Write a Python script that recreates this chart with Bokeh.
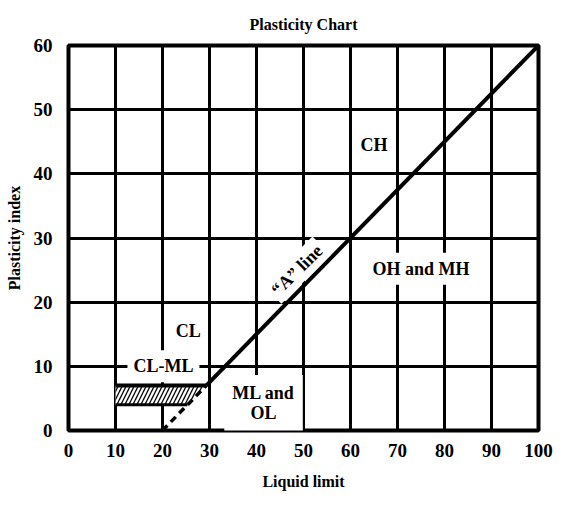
from bokeh.plotting import figure
from bokeh.models import ColumnDataSource
from bokeh.core.properties import value
from bokeh.embed import file_html
from bokeh.resources import INLINE

# ---- data ----
x_ticks = [0, 10, 20, 30, 40, 50, 60, 70, 80, 90, 100]
y_ticks = [0, 10, 20, 30, 40, 50, 60]

# "A" line (solid part) and its dashed extension
a_line_ll = [29.3, 100]
a_line_pi = [7, 60]
a_dash_ll = [20, 29.3]
a_dash_pi = [0, 7]

# CL-ML hatched band
hatch_ll = [10, 29.3, 25.3, 10]
hatch_pi = [7, 7, 4, 4]
band_top_ll = [10, 29.3]
band_top_pi = [7, 7]
band_bot_ll = [10, 25.3]
band_bot_pi = [4, 4]

# zone labels
zone_text = ["CH", "OH and MH", "CL", "CL-ML"]
zone_ll = [65, 75, 25.5, 20.2]
zone_pi = [44.5, 25.2, 15.5, 10]

ml_text = ["ML and\nOL"]
ml_ll = [41.5]
ml_pi = [4.3]

aline_label = ["\u201cA\u201d line"]
aline_label_ll = [48.6]
aline_label_pi = [25.0]

FONT = "Liberation Serif"

p = figure(width=558, height=492, x_range=(0, 100), y_range=(0, 60),
           min_border_left=68, min_border_right=20, min_border_top=42, min_border_bottom=58,
           output_backend="svg", toolbar_location=None, tools="")

p.title.text = "Plasticity Chart"
p.title.align = "center"
p.title.text_font = FONT
p.title.text_font_size = "16px"
p.title.text_font_style = "bold"
p.title.text_color = "black"
p.title.standoff = 26

for ax in (p.xaxis[0], p.yaxis[0]):
    ax.axis_line_color = None
    ax.major_tick_line_color = None
    ax.minor_tick_line_color = None
    ax.major_label_text_font = FONT
    ax.major_label_text_font_size = "19px"
    ax.major_label_text_font_style = "bold"
    ax.major_label_text_color = "black"
    ax.axis_label_text_font = FONT
    ax.axis_label_text_font_size = "16px"
    ax.axis_label_text_font_style = "bold"
    ax.axis_label_text_color = "black"

p.xaxis.ticker = x_ticks
p.yaxis.ticker = y_ticks
p.xaxis.major_label_standoff = 7
p.yaxis.major_label_standoff = 10
p.xaxis.axis_label = "Liquid limit"
p.yaxis.axis_label = "Plasticity index"
p.xaxis.axis_label_standoff = 13
p.yaxis.axis_label_standoff = 8

p.xgrid.ticker = x_ticks
p.ygrid.ticker = y_ticks
for g in (p.xgrid[0], p.ygrid[0]):
    g.grid_line_color = "black"
    g.grid_line_width = 3
    g.grid_line_alpha = 1.0

p.outline_line_color = "black"
p.outline_line_width = 4
p.outline_line_alpha = 1.0

# hatched CL-ML band
p.patch(hatch_ll, hatch_pi, fill_color="white", line_color=None,
        hatch_pattern="/", hatch_color="black", hatch_scale=8, hatch_weight=1.3)
p.line(band_top_ll, band_top_pi, line_color="black", line_width=4)
p.line(band_bot_ll, band_bot_pi, line_color="black", line_width=3)

# A line
p.line(a_line_ll, a_line_pi, line_color="black", line_width=4)
p.line(a_dash_ll, a_dash_pi, line_color="black", line_width=3.5, line_dash="7 5")

src = ColumnDataSource(dict(x=zone_ll, y=zone_pi, t=zone_text))
p.text(x="x", y="y", text="t", source=src, text_align="center", text_baseline="middle",
       text_font=value(FONT), text_font_style="bold", text_font_size="18px",
       text_color="black", background_fill_color="white", padding=6)

src_ml = ColumnDataSource(dict(x=ml_ll, y=ml_pi, t=ml_text))
p.text(x="x", y="y", text="t", source=src_ml, text_align="center", text_baseline="middle",
       text_font=value(FONT), text_font_style="bold", text_font_size="18px",
       text_line_height=1.0, text_color="black", background_fill_color="white", padding=8)

src2 = ColumnDataSource(dict(x=aline_label_ll, y=aline_label_pi, t=aline_label))
p.text(x="x", y="y", text="t", source=src2, angle=0.78, text_align="center",
       text_baseline="middle", text_font=value(FONT), text_font_style="bold",
       text_font_size="18px", text_color="black", background_fill_color="white", padding=3)

open("out.html", "w").write(file_html(p, INLINE))
